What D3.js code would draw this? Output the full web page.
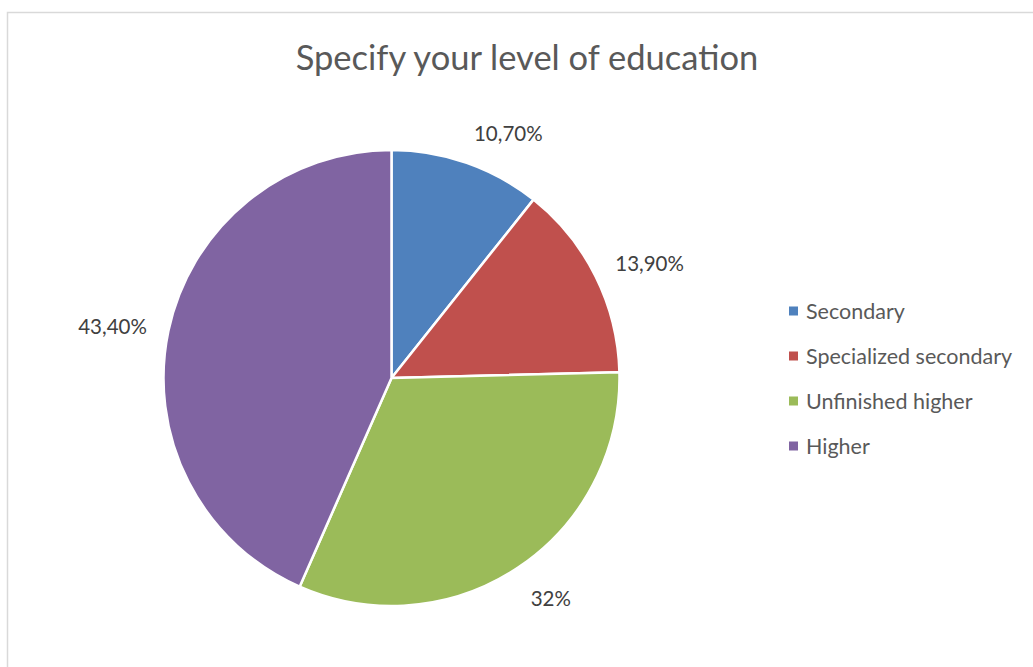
<!DOCTYPE html>
<html>
<head>
<meta charset="utf-8">
<script src="https://cdn.jsdelivr.net/npm/d3@7"></script>
<style>
  html, body { margin: 0; padding: 0; background: #fff; }
  svg { display: block; }
  text { font-family: Lato, "Open Sans", "Liberation Sans", sans-serif; }
</style>
</head>
<body>
<svg id="chart" width="1033" height="667"></svg>
<script>
// Survey answers: level of education
const categories = ["Secondary", "Specialized secondary", "Unfinished higher", "Higher"];
const shares = [10.7, 13.9, 32, 43.4];
const shareLabels = ["10,70%", "13,90%", "32%", "43,40%"];
const colors = ["#4F81BD", "#C0504D", "#9BBB59", "#8064A2"];
const title = "Specify your level of education";

const W = 1033, H = 667;
const svg = d3.select("#chart");

// chart frame (open to the right and bottom)
svg.append("rect")
  .attr("x", 7.5).attr("y", 12.5)
  .attr("width", W + 20).attr("height", H + 20)
  .attr("fill", "#fff")
  .attr("stroke", "#D9D9D9")
  .attr("stroke-width", 1.5);

svg.append("text")
  .attr("x", 527).attr("y", 70)
  .attr("text-anchor", "middle")
  .attr("fill", "#595959")
  .attr("font-size", 34.5)
  .text(title);

const cx = 391.5, cy = 378, R = 228;
const color = d3.scaleOrdinal().domain(categories).range(colors);

const pie = d3.pie().sort(null).value(d => d.v);
const data = categories.map((c, i) => ({ c, v: shares[i], label: shareLabels[i] }));
const arcs = pie(data);
const arc = d3.arc().innerRadius(0).outerRadius(R);

const g = svg.append("g").attr("transform", `translate(${cx},${cy})`);
g.selectAll("path.slice")
  .data(arcs)
  .join("path")
  .attr("class", "slice")
  .attr("d", arc)
  .attr("fill", d => color(d.data.c))
  .attr("stroke", "#fff")
  .attr("stroke-width", 2.5)
  .attr("stroke-linejoin", "round");

// value labels sit just outside the rim, pushed away along the mid angle
const labelR = 250;
const labels = g.selectAll("text.val")
  .data(arcs)
  .join("text")
  .attr("class", "val")
  .attr("font-size", 20.5)
  .attr("fill", "#404040")
  .attr("text-anchor", "middle")
  .attr("dominant-baseline", "central")
  .text(d => d.data.label);

labels.each(function(d) {
  const a = (d.startAngle + d.endAngle) / 2;
  const s = Math.sin(a), c = Math.cos(a);
  const bb = this.getBBox();
  const px = labelR * s, py = -labelR * c;
  const x = px + Math.sign(s) * bb.width / 2;
  const y = py - c * bb.height / 2 + 2;
  d3.select(this).attr("x", x).attr("y", y);
});

// legend
const legend = svg.append("g").attr("transform", "translate(789,311)");
const item = legend.selectAll("g")
  .data(categories)
  .join("g")
  .attr("transform", (d, i) => `translate(0,${i * 45})`);
item.append("rect")
  .attr("x", 0).attr("y", -4.5)
  .attr("width", 9).attr("height", 9)
  .attr("fill", d => color(d));
item.append("text")
  .attr("x", 17).attr("y", 0)
  .attr("dominant-baseline", "central")
  .attr("font-size", 21.5)
  .attr("fill", "#595959")
  .text(d => d);
</script>
</body>
</html>
